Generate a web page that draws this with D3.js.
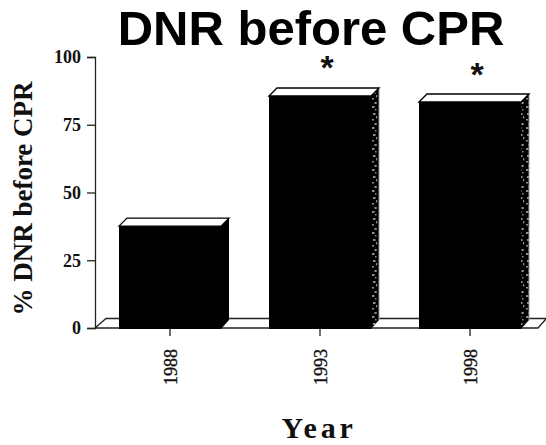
<!DOCTYPE html>
<html>
<head>
<meta charset="utf-8">
<script src="https://cdn.jsdelivr.net/npm/d3@7"></script>
<style>
html,body{margin:0;padding:0;background:#fff}
svg{display:block}
</style>
</head>
<body>
<svg id="chart" width="546" height="445"></svg>
<script>
const years = ["1988", "1993", "1998"];
const dnrPercent = [37.6, 85.6, 83.4];
const speckledSide = [false, true, true];
const starYears = ["1993", "1998"];
const starLevels = [91.9, 89.4];
const yTicks = [0, 25, 50, 75, 100];

const serif = "'Liberation Serif','Times New Roman',serif";
const sans = "'Liberation Sans',Arial,sans-serif";
const depth = 8;

const svg = d3.select("#chart");
const x = d3.scaleBand().domain(years).range([95, 545]).paddingInner(0.32).paddingOuter(0.16);
const y = d3.scaleLinear().domain([0, 100]).range([328, 57]);

// Blotchy texture on the shaded side of the taller bars
const defs = svg.append("defs");
const pat = defs.append("pattern").attr("id", "sideDots").attr("patternUnits", "userSpaceOnUse")
  .attr("width", 7).attr("height", 21);
pat.append("rect").attr("width", 7).attr("height", 21).attr("fill", "#000");
[[1, 1, 2.5, 2], [4, 4, 1.5, 1.5], [2, 8, 2.5, 2], [5, 11, 1.2, 2.4], [1, 14, 2, 1.5], [3.5, 18, 2.2, 2]]
  .forEach(d => pat.append("rect").attr("x", d[0]).attr("y", d[1]).attr("width", d[2]).attr("height", d[3]).attr("fill", "#8f8f8f"));

// Floor plane
const y0 = y(0), bw = x.bandwidth();
svg.append("path")
  .attr("d", `M${x.range()[0]},${y0}L${x.range()[0] + depth + 3},${y0 - 9.5}H546M546,${y0 - 9}L538,${y0}H${x.range()[0]}`)
  .attr("fill", "none").attr("stroke", "#222").attr("stroke-width", 1.3);

// Bars: front, top and side faces
const bars = svg.selectAll("g.bar").data(years).join("g").attr("class", "bar");
bars.each(function (yr, i) {
  const g = d3.select(this);
  const l = x(yr), r = l + bw, t = y(dnrPercent[i]);
  g.append("path")
    .attr("d", `M${r},${t}L${r + depth},${t - depth}V${y0 - depth}L${r},${y0 + 1}Z`)
    .attr("fill", speckledSide[i] ? "url(#sideDots)" : "#000");
  if (speckledSide[i]) {
    g.append("line").attr("x1", r + depth).attr("x2", r + depth).attr("y1", t - depth).attr("y2", y0 - depth)
      .attr("stroke", "#999").attr("stroke-width", 1);
  }
  g.append("path")
    .attr("d", `M${l},${t}L${l + depth},${t - depth}H${r + depth}L${r},${t}Z`)
    .attr("fill", "#fff").attr("stroke", "#000").attr("stroke-width", 1.3);
  g.append("rect").attr("x", l).attr("y", t).attr("width", bw).attr("height", y0 + 1 - t).attr("fill", "#000");
});

// Axes
const yAxis = d3.axisLeft(y).tickValues(yTicks).tickSize(8).tickPadding(6);
const gy = svg.append("g").attr("transform", "translate(95,0)").call(yAxis);
gy.select(".domain").attr("stroke", "#222").attr("stroke-width", 1.3);
gy.selectAll(".tick line").attr("stroke", "#222").attr("stroke-width", 1.3);
gy.selectAll("text").attr("font-family", serif).attr("font-weight", "bold").attr("font-size", 18).attr("fill", "#111");

const xAxis = d3.axisBottom(x).tickSize(8).tickPadding(0);
const gx = svg.append("g").attr("transform", `translate(0,${y0})`).call(xAxis);
gx.select(".domain").remove();
gx.selectAll(".tick line").attr("stroke", "#222").attr("stroke-width", 1.3);
gx.selectAll("text")
  .attr("font-family", serif).attr("font-size", 18).attr("fill", "#111")
  .attr("stroke", "#111").attr("stroke-width", 0.35)
  .attr("text-anchor", "middle").attr("dy", null).attr("y", null)
  .attr("transform", "translate(7,39) rotate(-90)");

// Significance markers
svg.selectAll("text.star").data(starYears).join("text")
  .attr("class", "star")
  .attr("x", d => x(d) + bw / 2 + 7)
  .attr("y", (d, i) => y(starLevels[i]))
  .attr("text-anchor", "middle")
  .attr("font-family", sans).attr("font-weight", "bold").attr("font-size", 34).attr("fill", "#111")
  .text("*");

// Titles
svg.append("text").attr("x", 311).attr("y", 45).attr("text-anchor", "middle")
  .attr("font-family", sans).attr("font-weight", "bold").attr("font-size", 49).attr("fill", "#000")
  .text("DNR before CPR");
svg.append("text").attr("x", 319).attr("y", 438.4).attr("text-anchor", "middle")
  .attr("font-family", serif).attr("font-weight", "bold").attr("font-size", 30).attr("letter-spacing", 3.8).attr("fill", "#111")
  .text("Year");
svg.append("text").attr("transform", "translate(32,198.5) rotate(-90)").attr("text-anchor", "middle")
  .attr("font-family", serif).attr("font-weight", "bold").attr("font-size", 27).attr("fill", "#111")
  .text("% DNR before CPR");
</script>
</body>
</html>
